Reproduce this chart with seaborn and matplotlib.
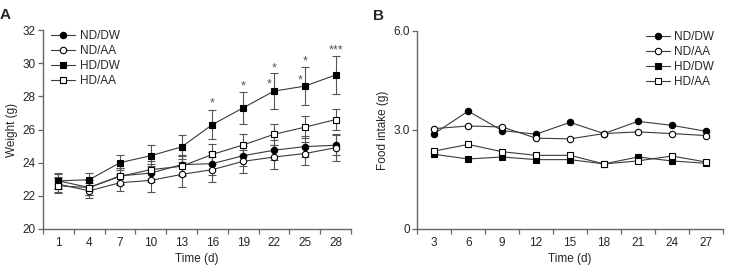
import numpy as np
import pandas as pd
import seaborn as sns
import matplotlib.pyplot as plt

# Panel A: body weight (mean, SD)
days_a = [1, 4, 7, 10, 13, 16, 19, 22, 25, 28]
groups = ['ND/DW', 'ND/AA', 'HD/DW', 'HD/AA']
weight = {
    'ND/DW': [22.9, 22.5, 23.2, 23.37, 23.88, 23.94, 24.42, 24.75, 24.97, 25.05],
    'ND/AA': [22.7, 22.3, 22.79, 22.93, 23.29, 23.58, 24.08, 24.34, 24.55, 24.9],
    'HD/DW': [22.9, 22.97, 24.0, 24.42, 24.95, 26.3, 27.31, 28.32, 28.62, 29.29],
    'HD/AA': [22.6, 22.5, 23.17, 23.58, 23.78, 24.5, 25.07, 25.71, 26.14, 26.6],
}
weight_sd = {
    'ND/DW': [0.5, 0.45, 0.5, 0.55, 0.6, 0.7, 0.6, 0.6, 0.65, 0.6],
    'ND/AA': [0.45, 0.45, 0.53, 0.7, 0.73, 0.75, 0.7, 0.75, 0.7, 0.8],
    'HD/DW': [0.4, 0.4, 0.46, 0.65, 0.72, 0.87, 0.95, 1.07, 1.14, 1.15],
    'HD/AA': [0.45, 0.45, 0.5, 0.55, 0.6, 0.6, 0.63, 0.65, 0.66, 0.65],
}
# significance marks (day, y, text)
star_days = [16, 19, 22, 21.5, 25, 24.5, 28]
star_y = [27.55, 28.6, 29.7, 28.75, 30.1, 28.95, 30.75]
star_txt = ['*', '*', '*', '*', '*', '*', '***']

# Panel B: food intake
days_b = [3, 6, 9, 12, 15, 18, 21, 24, 27]
food = {
    'ND/DW': [2.89, 3.57, 2.98, 2.87, 3.23, 2.89, 3.26, 3.14, 2.96],
    'ND/AA': [3.04, 3.12, 3.09, 2.75, 2.73, 2.89, 2.94, 2.89, 2.83],
    'HD/DW': [2.26, 2.12, 2.18, 2.10, 2.10, 1.97, 2.18, 2.06, 1.99],
    'HD/AA': [2.36, 2.56, 2.34, 2.23, 2.23, 1.97, 2.06, 2.21, 2.03],
}

marker = {'ND/DW': 'o', 'ND/AA': 'o', 'HD/DW': 's', 'HD/AA': 's'}
face = {'ND/DW': 'black', 'ND/AA': 'white', 'HD/DW': 'black', 'HD/AA': 'white'}

sns.set_theme(style='ticks')
plt.rcParams['font.family'] = ['Liberation Sans', 'DejaVu Sans']
line_c = '#3a3a3a'
axis_c = '#666666'
fs = 8.5

fig = plt.figure(figsize=(7.29, 2.69), dpi=100)
ax_a = fig.add_axes([0.059, 0.149, 0.4225, 0.739])
ax_b = fig.add_axes([0.5724, 0.149, 0.419, 0.736])


def style_axis(ax):
    sns.despine(ax=ax)
    for s in ['left', 'bottom']:
        ax.spines[s].set_color(axis_c)
        ax.spines[s].set_linewidth(1.0)
    ax.tick_params(axis='both', which='major', length=3.5, width=0.9,
                   color=axis_c, labelsize=fs, pad=2)


for g in groups:
    df = pd.DataFrame({'day': days_a, 'w': weight[g]})
    ax_a.errorbar(days_a, weight[g], yerr=weight_sd[g], fmt='none',
                  ecolor='#555555', elinewidth=0.8, capsize=3, capthick=0.8, zorder=2)
    sns.lineplot(data=df, x='day', y='w', ax=ax_a, color=line_c, lw=0.8,
                 marker=marker[g], markersize=4.6, markerfacecolor=face[g],
                 markeredgecolor='black', markeredgewidth=0.8, label=g, zorder=3)

for d, y, t in zip(star_days, star_y, star_txt):
    ax_a.text(d, y, t, ha='center', va='center', fontsize=9, color='#555555')

ax_a.set_xlim(-0.5, 29.5)
ax_a.set_ylim(20, 32)
ax_a.set_yticks([20, 22, 24, 26, 28, 30, 32])
ax_a.set_xticks(np.arange(-0.5, 30, 3))
ax_a.set_xticklabels([])
ax_a.set_xticks(days_a, minor=True)
ax_a.set_xticklabels([str(d) for d in days_a], minor=True)
style_axis(ax_a)
ax_a.tick_params(axis='x', which='minor', length=0, labelsize=fs, pad=6)
ax_a.set_xlabel('Time (d)', fontsize=fs, labelpad=3)
ax_a.set_ylabel('Weight (g)', fontsize=fs, labelpad=3)
ax_a.legend(loc='upper left', bbox_to_anchor=(0.0, 1.04), frameon=False, fontsize=fs,
            handlelength=2.0, handletextpad=0.4, labelspacing=0.25, borderaxespad=0.3)

for g in groups:
    df = pd.DataFrame({'day': days_b, 'f': food[g]})
    sns.lineplot(data=df, x='day', y='f', ax=ax_b, color=line_c, lw=0.8,
                 marker=marker[g], markersize=4.6, markerfacecolor=face[g],
                 markeredgecolor='black', markeredgewidth=0.8, label=g)

ax_b.set_xlim(1.5, 28.5)
ax_b.set_ylim(0, 6)
ax_b.set_yticks([0, 3, 6])
ax_b.set_yticklabels(['0', '3.0', '6.0'])
ax_b.set_xticks(np.arange(1.5, 29, 3))
ax_b.set_xticklabels([])
ax_b.set_xticks(days_b, minor=True)
ax_b.set_xticklabels([str(d) for d in days_b], minor=True)
style_axis(ax_b)
ax_b.tick_params(axis='x', which='minor', length=0, labelsize=fs, pad=6)
ax_b.set_xlabel('Time (d)', fontsize=fs, labelpad=3)
ax_b.set_ylabel('Food intake (g)', fontsize=fs, labelpad=3)
ax_b.legend(loc='upper right', bbox_to_anchor=(1.0, 1.04), frameon=False, fontsize=fs,
            handlelength=2.0, handletextpad=0.4, labelspacing=0.25, borderaxespad=0.3)

fig.text(0.0, 0.945, 'A', fontsize=11, fontweight='bold', ha='left', va='center')
fig.text(0.512, 0.94, 'B', fontsize=11, fontweight='bold', ha='left', va='center')

fig.savefig('out.png', dpi=100)
